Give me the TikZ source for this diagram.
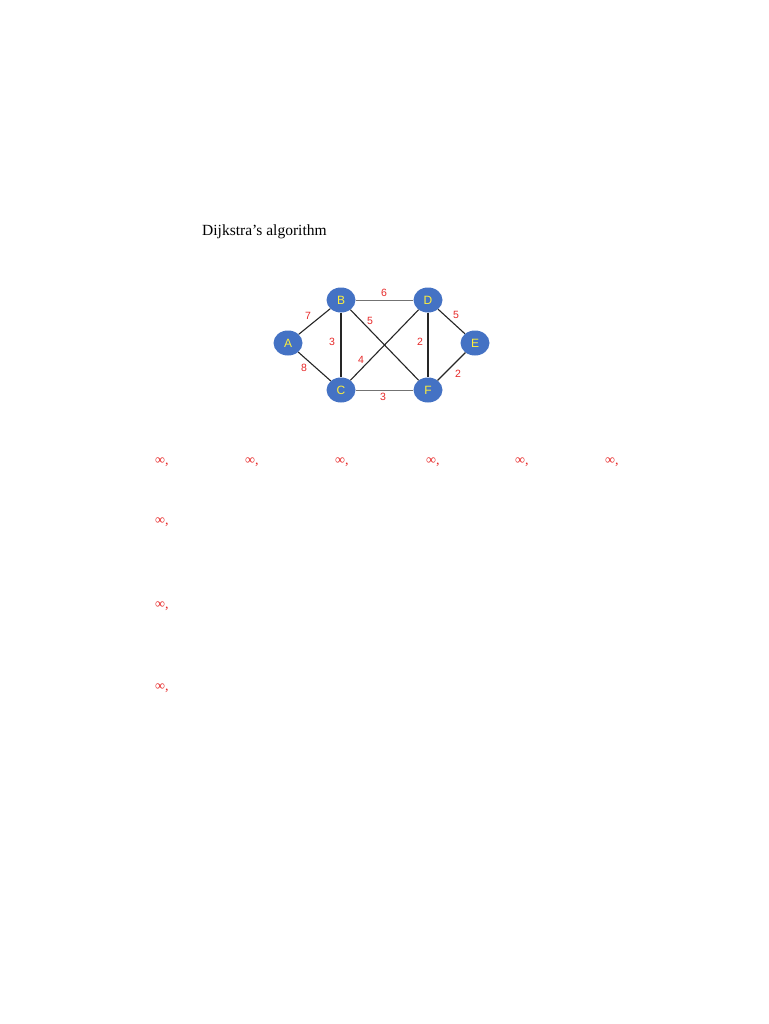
\documentclass[tikz,border=0pt]{standalone}
\usepackage{fontspec}
\setmainfont{Liberation Serif}
\setsansfont{Liberation Sans}
\usepackage{tikz}
\usetikzlibrary{shapes.geometric}

\definecolor{nodeblue}{RGB}{68,114,196}
\definecolor{labelred}{RGB}{230,40,40}
\definecolor{letteryellow}{RGB}{255,240,60}

\begin{document}
\begin{tikzpicture}[
  x=1pt, y=-1pt,
  vertex/.style={ellipse, fill=nodeblue, minimum width=29pt, minimum height=25pt, inner sep=0pt,
    text=letteryellow, font=\sffamily\fontsize{12}{12}\selectfont},
  wt/.style={text=labelred, font=\sffamily\fontsize{10.5}{10.5}\selectfont, inner sep=0pt},
  road/.style={draw=black!85, line width=1.1pt},
  thin road/.style={draw=black!55, line width=0.8pt},
  dist/.style={text=labelred, font=\fontsize{14}{14}\selectfont, anchor=west, inner sep=0pt}
]
  \useasboundingbox (0,0) rectangle (768,1024);

  \node[anchor=west, inner sep=0pt, font=\fontsize{15.5}{19}\selectfont] (title) at (202,232) {Dijkstra's algorithm};

  % the graph
  \node[vertex] (A) at (288,343) {A};
  \node[vertex] (B) at (341,300) {B};
  \node[vertex] (D) at (428,300) {D};
  \node[vertex] (E) at (475,343) {E};
  \node[vertex] (C) at (341,390) {C};
  \node[vertex] (F) at (428,390) {F};

  \draw[road] (A) -- (B);
  \draw[road] (A) -- (C);
  \draw[road] (B) -- (C);
  \draw[thin road] (B) -- (D);
  \draw[road] (B) -- (F);
  \draw[road] (D) -- (C);
  \draw[road] (D) -- (F);
  \draw[road] (D) -- (E);
  \draw[road] (E) -- (F);
  \draw[thin road] (C) -- (F);

  \node[wt] (wAB) at (308,316) {7};
  \node[wt] (wAC) at (304,368) {8};
  \node[wt] (wBC) at (332,342) {3};
  \node[wt] (wBD) at (384,293) {6};
  \node[wt] (wBF) at (370,321) {5};
  \node[wt] (wDC) at (361,360) {4};
  \node[wt] (wDF) at (420,342) {2};
  \node[wt] (wDE) at (456,315) {5};
  \node[wt] (wEF) at (458,374) {2};
  \node[wt] (wCF) at (383,397) {3};

  % distances
  \foreach \px [count=\i] in {155,245,335,426,515,605}
    \node[dist] (row\i) at (\px,462) {∞,};
  \foreach \py [count=\i] in {522,606,688}
    \node[dist] (col\i) at (155,\py) {∞,};
\end{tikzpicture}
\end{document}
